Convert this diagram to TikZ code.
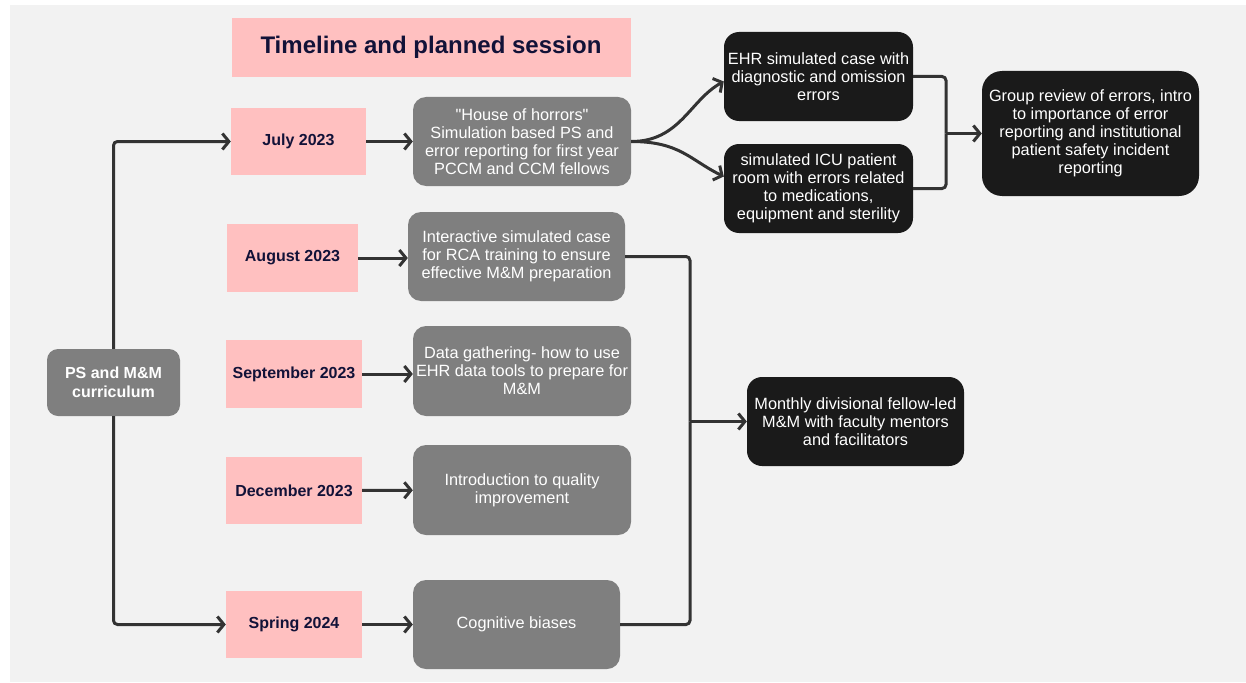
\documentclass[tikz,border=0pt]{standalone}
\usepackage{fontspec}
\setmainfont{Liberation Sans}
\usetikzlibrary{arrows.meta}

\definecolor{panelbg}{RGB}{242,242,242}
\definecolor{datepink}{RGB}{255,192,192}
\definecolor{navytext}{RGB}{18,18,56}
\definecolor{stepgray}{RGB}{127,127,127}
\definecolor{outblack}{RGB}{26,26,26}
\definecolor{linkgray}{RGB}{51,51,51}

\tikzset{
  datebox/.style={fill=datepink, inner sep=0pt, text=navytext,
    font=\fontsize{16}{18}\selectfont\bfseries},
  stepbox/.style={fill=stepgray, rounded corners=13pt, inner sep=0pt,
    text=white, align=center, font=\fontsize{16.3}{18}\selectfont},
  outbox/.style={fill=outblack, rounded corners=15pt, inner sep=0pt,
    text=white, align=center, font=\fontsize{16.3}{18}\selectfont},
  link/.style={draw=linkgray, line width=3pt, rounded corners=4pt},
  linkto/.style={link, -{Straight Barb[length=6.5pt,width=16pt]}}
}

\begin{document}
\begin{tikzpicture}[x=1pt, y=-1pt]
  \useasboundingbox (0,0) rectangle (1246,682);
  \fill[panelbg] (10,5) rectangle (1246,682);

  \node[datebox, minimum width=399pt, minimum height=59pt,
    font=\fontsize{24}{28}\selectfont\bfseries] (title) at (431,47.5) {Timeline and planned session};

  \node[stepbox, minimum width=133pt, minimum height=67pt, rounded corners=11pt,
    font=\fontsize{16}{19}\selectfont\bfseries] (ps) at (113.5,382.5) {PS and M\&M\\curriculum};

  \node[datebox, minimum width=135pt, minimum height=67pt] (july) at (298.5,141.5) {July 2023};
  \node[datebox, minimum width=131pt, minimum height=68pt] (august) at (292.5,258) {August 2023};
  \node[datebox, minimum width=136pt, minimum height=68pt] (september) at (294,374) {September 2023};
  \node[datebox, minimum width=136pt, minimum height=67pt] (december) at (294,490.5) {December 2023};
  \node[datebox, minimum width=136pt, minimum height=67pt] (spring) at (294,624.5) {Spring 2024};

  \node[stepbox, minimum width=218pt, minimum height=89pt] (horrors) at (522,141.5)
    {\textquotedbl House of horrors\textquotedbl\\Simulation based PS and\\error reporting for first year\\PCCM and CCM fellows};
  \node[stepbox, minimum width=217pt, minimum height=89pt] (rca) at (516.5,256.5)
    {Interactive simulated case\\for RCA training to ensure\\effective M\&M preparation};
  \node[stepbox, minimum width=218pt, minimum height=90pt] (datatools) at (522,371)
    {Data gathering- how to use\\EHR data tools to prepare for\\M\&M};
  \node[stepbox, minimum width=218pt, minimum height=90pt] (quality) at (522,490)
    {Introduction to quality\\improvement};
  \node[stepbox, minimum width=207pt, minimum height=89pt] (biases) at (516.5,624.5)
    {Cognitive biases};

  \node[outbox, minimum width=189pt, minimum height=89pt] (ehr) at (818.5,76.5)
    {EHR simulated case with\\diagnostic and omission\\errors};
  \node[outbox, minimum width=189pt, minimum height=89pt] (icu) at (818.5,188.5)
    {simulated ICU patient\\room with errors related\\to medications,\\equipment and sterility};
  \node[outbox, minimum width=217pt, minimum height=125pt, rounded corners=20pt] (group) at (1090.5,133.5)
    {Group review of errors, intro\\to importance of error\\reporting and institutional\\patient safety incident\\reporting};
  \node[outbox, minimum width=217pt, minimum height=89pt] (monthly) at (855.5,421.5)
    {Monthly divisional fellow-led\\M\&M with faculty mentors\\and facilitators};

  \coordinate (errbus) at (946,133.5);
  \coordinate (mmbus) at (690,421.5);

  \draw[linkto] (ps.north) |- (july.west);
  \draw[linkto] (ps.south) |- (spring.west);

  \draw[linkto] (july) -- (horrors);
  \draw[linkto] (august) -- (rca.west |- august);
  \draw[linkto] (september) -- (datatools.west |- september);
  \draw[linkto] (december) -- (quality);
  \draw[linkto] (spring) -- (biases);

  \draw[linkto] (horrors.east) .. controls (680,141.5) and (690,100) .. ([yshift=-5pt]ehr.west);
  \draw[linkto] (horrors.east) .. controls (680,141.5) and (690,160) .. ([yshift=12pt]icu.west);

  \draw[link] (ehr.east) -| (errbus);
  \draw[link] (icu.east) -| (errbus);
  \draw[linkto] (errbus) -- (group.west);

  \draw[link] (rca.east) -| (mmbus);
  \draw[link] (biases.east) -| (mmbus);
  \draw[linkto] (mmbus) -- (monthly.west);
\end{tikzpicture}
\end{document}
